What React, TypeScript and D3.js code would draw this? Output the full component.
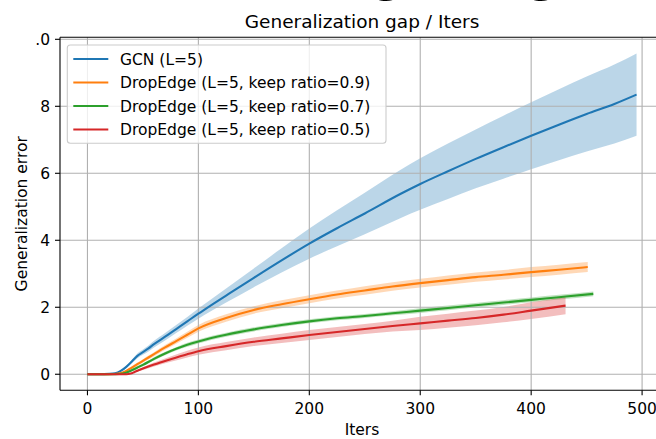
import React from 'react';
import * as d3 from 'd3';

const xTicks = [0, 100, 200, 300, 400, 500];
const yTicks = [0, 2, 4, 6, 8, 10];
const yTickLabels = ['0', '2', '4', '6', '8', '.0'];

const seriesNames = [
  'GCN (L=5)',
  'DropEdge (L=5, keep ratio=0.9)',
  'DropEdge (L=5, keep ratio=0.7)',
  'DropEdge (L=5, keep ratio=0.5)',
];
const seriesColors = ['#1f77b4', '#ff7f0e', '#2ca02c', '#d62728'];

const gcnIters = [0, 10, 20, 25, 30, 35, 40, 45, 50, 55, 60, 70, 80, 90, 100, 110, 125, 150, 175, 200, 225, 250, 282, 300, 325, 350, 375, 400, 425, 450, 475, 495];
const gcnMean = [0, 0, 0.01, 0.03, 0.1, 0.22, 0.38, 0.55, 0.66, 0.77, 0.9, 1.12, 1.35, 1.58, 1.81, 2.03, 2.35, 2.88, 3.4, 3.9, 4.36, 4.8, 5.38, 5.68, 6.06, 6.43, 6.78, 7.12, 7.45, 7.77, 8.07, 8.35];
const gcnStd = [0, 0, 0, 0.01, 0.02, 0.03, 0.05, 0.07, 0.08, 0.09, 0.1, 0.11, 0.12, 0.13, 0.15, 0.17, 0.21, 0.28, 0.36, 0.45, 0.54, 0.62, 0.72, 0.77, 0.83, 0.88, 0.94, 1.0, 1.06, 1.12, 1.18, 1.23];

const de9Iters = [0, 20, 28, 35, 40, 45, 50, 55, 60, 70, 80, 90, 100, 125, 150, 175, 200, 225, 250, 275, 300, 325, 350, 375, 400, 425, 451];
const de9Mean = [0, 0, 0.02, 0.1, 0.2, 0.3, 0.4, 0.5, 0.6, 0.8, 0.99, 1.18, 1.37, 1.68, 1.92, 2.09, 2.24, 2.38, 2.5, 2.62, 2.72, 2.81, 2.9, 2.97, 3.05, 3.12, 3.2];
const de9Std = [0, 0, 0.01, 0.03, 0.04, 0.05, 0.05, 0.06, 0.06, 0.07, 0.08, 0.09, 0.1, 0.11, 0.11, 0.12, 0.12, 0.12, 0.13, 0.13, 0.13, 0.14, 0.14, 0.14, 0.15, 0.15, 0.15];

const de7Iters = [0, 25, 32, 40, 45, 50, 60, 70, 80, 90, 100, 125, 150, 175, 200, 225, 250, 275, 300, 325, 350, 375, 400, 425, 456];
const de7Mean = [0, 0, 0.02, 0.12, 0.2, 0.28, 0.46, 0.62, 0.76, 0.88, 0.98, 1.18, 1.34, 1.47, 1.58, 1.67, 1.74, 1.82, 1.9, 1.98, 2.06, 2.14, 2.22, 2.3, 2.4];
const de7Std = [0, 0, 0.01, 0.03, 0.04, 0.04, 0.05, 0.05, 0.05, 0.06, 0.06, 0.06, 0.06, 0.06, 0.06, 0.06, 0.06, 0.06, 0.07, 0.07, 0.07, 0.07, 0.07, 0.07, 0.07];

const de5Iters = [0, 35, 39, 42, 46, 50, 60, 75, 90, 100, 125, 150, 175, 200, 225, 250, 275, 300, 325, 350, 375, 400, 431];
const de5Mean = [0, 0, 0.02, 0.06, 0.12, 0.17, 0.29, 0.45, 0.6, 0.69, 0.84, 0.97, 1.07, 1.17, 1.26, 1.35, 1.44, 1.52, 1.6, 1.68, 1.78, 1.9, 2.05];
const de5Std = [0, 0, 0.01, 0.02, 0.03, 0.04, 0.06, 0.08, 0.1, 0.11, 0.12, 0.13, 0.14, 0.15, 0.15, 0.15, 0.16, 0.2, 0.21, 0.22, 0.23, 0.25, 0.26];

const seriesIters = [gcnIters, de9Iters, de7Iters, de5Iters];
const seriesMean = [gcnMean, de9Mean, de7Mean, de5Mean];
const seriesStd = [gcnStd, de9Std, de7Std, de5Std];

const W = 656;
const H = 439;
const L = 60, R = 664, T = 37.3, B = 390.3;
const FONT = '"DejaVu Sans", sans-serif';

export default function App() {
  const x = d3.scaleLinear().domain([-24.75, 519.75]).range([L, R]);
  const y = d3.scaleLinear().domain([-0.479, 10.06]).range([B, T]);

  const data = seriesIters.map((its, s) =>
    its.map((it, i) => ({ it, m: seriesMean[s][i], sd: seriesStd[s][i] }))
  );

  const line = d3
    .line<{ it: number; m: number; sd: number }>()
    .x((d) => x(d.it))
    .y((d) => y(d.m))
    .curve(d3.curveMonotoneX);
  const area = d3
    .area<{ it: number; m: number; sd: number }>()
    .x((d) => x(d.it))
    .y0((d) => y(d.m - d.sd))
    .y1((d) => y(d.m + d.sd))
    .curve(d3.curveMonotoneX);

  const fs = 15.5;

  return (
    <svg
      width={W}
      height={H}
      style={{ position: 'absolute', left: 0, top: 0, background: '#fff' }}
      fontFamily={FONT}
    >
      <rect x={0} y={0} width={W} height={H} fill="#fff" />
      <defs>
        <clipPath id="plotclip">
          <rect x={L} y={T} width={R - L} height={B - T} />
        </clipPath>
      </defs>

      {/* big cut-off heading descenders */}
      <text x={371} y={-10} fontSize={52} fill="#000">g</text>
      <text x={526} y={-10} fontSize={52} fill="#000">g</text>

      {/* title */}
      <text x={(L + R) / 2} y={28} fontSize={18.5} textAnchor="middle" fill="#000">
        Generalization gap / Iters
      </text>

      <g clipPath="url(#plotclip)">
        {data.map((d, s) => (
          <path key={'a' + s} d={area(d) || ''} fill={seriesColors[s]} fillOpacity={0.3} stroke="none" />
        ))}
        {xTicks.map((t) => (
          <line key={'gx' + t} x1={x(t)} x2={x(t)} y1={T} y2={B} stroke="#b0b0b0" strokeWidth={1.1} />
        ))}
        {yTicks.map((t) => (
          <line key={'gy' + t} x1={L} x2={R} y1={y(t)} y2={y(t)} stroke="#b0b0b0" strokeWidth={1.1} />
        ))}
        {data.map((d, s) => (
          <path key={'l' + s} d={line(d) || ''} fill="none" stroke={seriesColors[s]} strokeWidth={2.1} strokeLinejoin="round" />
        ))}
      </g>

      {/* spines */}
      <line x1={L} x2={L} y1={T} y2={B} stroke="#000" strokeWidth={1.1} />
      <line x1={L} x2={R} y1={B} y2={B} stroke="#000" strokeWidth={1.1} />
      <line x1={L} x2={R} y1={T} y2={T} stroke="#000" strokeWidth={1.1} />
      <line x1={R} x2={R} y1={T} y2={B} stroke="#000" strokeWidth={1.1} />

      {/* x ticks */}
      {xTicks.map((t) => (
        <g key={'xt' + t}>
          <line x1={x(t)} x2={x(t)} y1={B} y2={B + 5} stroke="#000" strokeWidth={1.1} />
          <text x={x(t)} y={414} fontSize={fs} textAnchor="middle" fill="#000">
            {t}
          </text>
        </g>
      ))}
      {/* y ticks */}
      {yTicks.map((t, i) => (
        <g key={'yt' + t}>
          <line x1={L - 5} x2={L} y1={y(t)} y2={y(t)} stroke="#000" strokeWidth={1.1} />
          <text x={L - 10} y={y(t) + 5.6} fontSize={fs} textAnchor="end" fill="#000">
            {yTickLabels[i]}
          </text>
        </g>
      ))}

      <text x={(L + R) / 2} y={435} fontSize={fs} textAnchor="middle" fill="#000">
        Iters
      </text>
      <text transform={`translate(26.5, ${(T + B) / 2}) rotate(-90)`} fontSize={fs} textAnchor="middle" fill="#000">
        Generalization error
      </text>

      {/* legend */}
      <rect x={67.3} y={45} width={318.7} height={98.3} rx={3} fill="#fff" fillOpacity={0.8} stroke="#cccccc" strokeWidth={1.1} />
      {seriesNames.map((n, i) => {
        const ly = 59 + i * 23.5;
        return (
          <g key={'lg' + i}>
            <line x1={73.3} x2={108.3} y1={ly} y2={ly} stroke={seriesColors[i]} strokeWidth={2.1} />
            <text x={120} y={ly + 5.6} fontSize={fs} fill="#000">
              {n}
            </text>
          </g>
        );
      })}
    </svg>
  );
}
